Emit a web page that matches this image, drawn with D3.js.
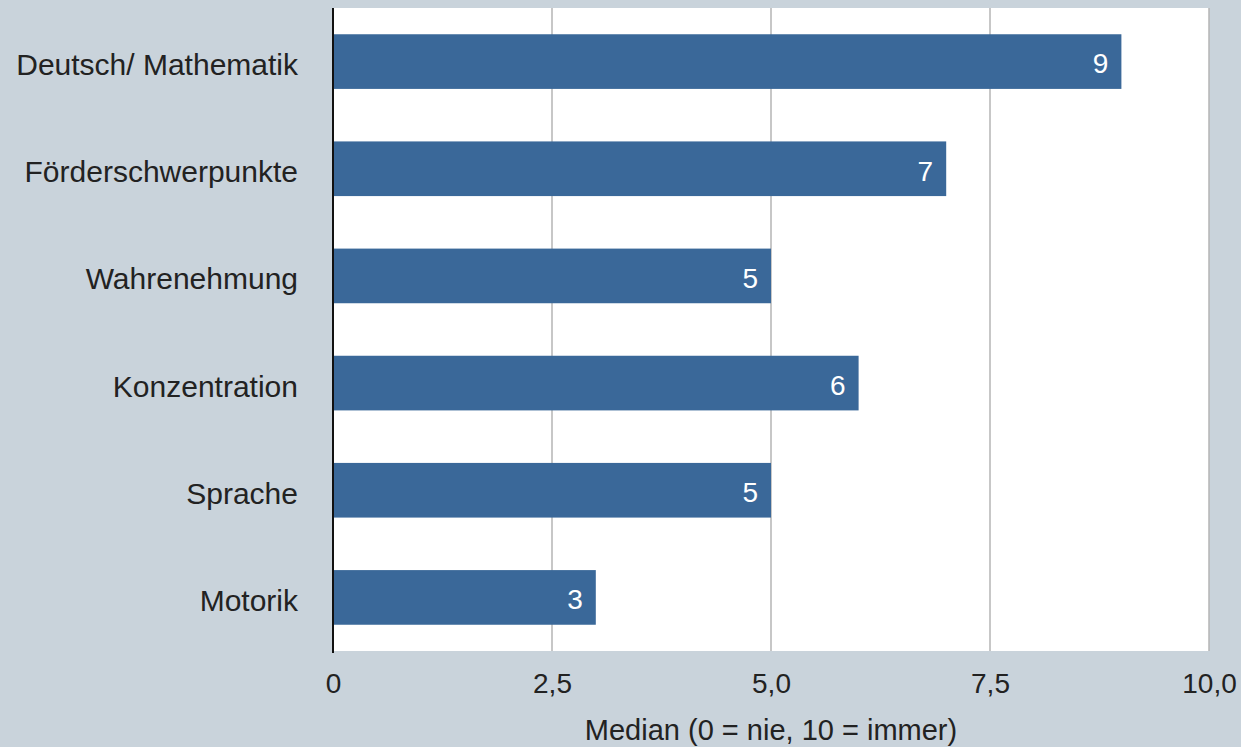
<!DOCTYPE html>
<html>
<head>
<meta charset="utf-8">
<script src="https://cdn.jsdelivr.net/npm/d3@7/dist/d3.min.js"></script>
<style>
  html, body { margin: 0; padding: 0; background: #c9d3db; }
  svg { display: block; }
  text { font-family: "Liberation Sans", Arial, Helvetica, sans-serif; }
</style>
</head>
<body>
<svg id="chart" width="1241" height="747"></svg>
<script>
const categories = ["Deutsch/ Mathematik", "Förderschwerpunkte", "Wahrenehmung", "Konzentration", "Sprache", "Motorik"];
const values = [9, 7, 5, 6, 5, 3];
const tickValues = [0, 2.5, 5, 7.5, 10];
const tickLabels = ["0", "2,5", "5,0", "7,5", "10,0"];
const axisTitle = "Median (0 = nie, 10 = immer)";

const svg = d3.select("#chart");
const W = 1241, H = 747;
const m = { left: 333, right: 32, top: 8, bottom: 96 };
const iw = W - m.left - m.right, ih = H - m.top - m.bottom;

svg.append("rect").attr("width", W).attr("height", H).attr("fill", "#c9d3db");

const g = svg.append("g").attr("transform", `translate(${m.left},${m.top})`);

const x = d3.scaleLinear().domain([0, 10]).range([0, iw]);
const y = d3.scaleBand().domain(categories).range([0, ih]).paddingInner(0.49).paddingOuter(0.245);

g.append("rect").attr("width", iw).attr("height", ih).attr("fill", "#ffffff");

// gridlines
g.selectAll("line.grid").data(tickValues.slice(1)).enter().append("line")
  .attr("class", "grid")
  .attr("x1", d => x(d)).attr("x2", d => x(d))
  .attr("y1", 0).attr("y2", ih)
  .attr("stroke", "#b4b4b4").attr("stroke-width", 1.5);

// bars
g.selectAll("rect.bar").data(values).enter().append("rect")
  .attr("class", "bar")
  .attr("x", 0)
  .attr("y", (d, i) => y(categories[i]))
  .attr("width", d => x(d))
  .attr("height", y.bandwidth())
  .attr("fill", "#3a6899");

// value labels
g.selectAll("text.val").data(values).enter().append("text")
  .attr("class", "val")
  .attr("x", d => x(d) - 13)
  .attr("y", (d, i) => y(categories[i]) + y.bandwidth() / 2)
  .attr("dy", "0.42em")
  .attr("text-anchor", "end")
  .attr("fill", "#ffffff")
  .attr("font-size", 28)
  .text(d => d);

// y axis
const yAxis = d3.axisLeft(y).tickSize(0).tickPadding(35);
const ya = g.append("g").call(yAxis);
ya.select(".domain").remove();
ya.selectAll("text").attr("font-size", 30).attr("dy", "0.45em").attr("fill", "#222").style("font-family", '"Liberation Sans", Arial, sans-serif');

g.append("line").attr("x1", 0).attr("x2", 0).attr("y1", 0).attr("y2", ih + 2)
  .attr("stroke", "#111").attr("stroke-width", 2);

// x axis
const xAxis = d3.axisBottom(x).tickValues(tickValues)
  .tickFormat((d, i) => tickLabels[i]).tickSize(0).tickPadding(22);
const xa = g.append("g").attr("transform", `translate(0,${ih})`).call(xAxis);
xa.select(".domain").remove();
xa.selectAll("text").attr("font-size", 28).attr("fill", "#222").style("font-family", '"Liberation Sans", Arial, sans-serif');

svg.append("text")
  .attr("x", m.left + iw / 2)
  .attr("y", 740)
  .attr("text-anchor", "middle")
  .attr("font-size", 29)
  .attr("fill", "#222")
  .text(axisTitle);
</script>
</body>
</html>
